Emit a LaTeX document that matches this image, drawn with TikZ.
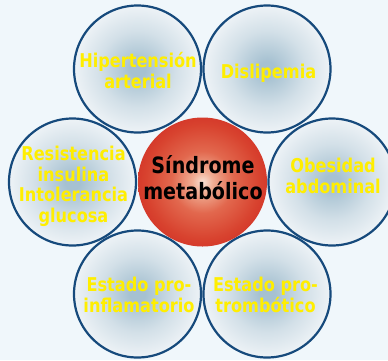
\documentclass[tikz,border=0pt]{standalone}
\usepackage{fontspec}
\newfontfamily\labfont[FakeStretch=0.85]{DejaVu Sans}
\definecolor{bg}{HTML}{F0F7FB}
\definecolor{rim}{HTML}{164A7C}
\definecolor{bubin}{HTML}{A6C1D1}
\definecolor{bubmid}{HTML}{D3E0E8}
\definecolor{bubout}{HTML}{F8FAFC}
\definecolor{txtyellow}{HTML}{FFEE00}
\definecolor{rc0}{HTML}{F9E2D5}
\definecolor{rc1}{HTML}{F0AE94}
\definecolor{rc2}{HTML}{E2684E}
\definecolor{rc3}{HTML}{D8432F}
\definecolor{rc4}{HTML}{D02C24}
\definecolor{rc5}{HTML}{C62020}
\pgfdeclareradialshading{bubble}{\pgfpoint{0bp}{0bp}}{color(0bp)=(bubin); color(3bp)=(bubin); color(15bp)=(bubmid); color(29bp)=(bubout); color(50bp)=(bubout)}
\pgfdeclareradialshading{redball}{\pgfpoint{0bp}{0bp}}{color(0bp)=(rc0); color(4bp)=(rc1); color(12bp)=(rc2); color(22bp)=(rc3); color(30bp)=(rc4); color(35bp)=(rc5); color(50bp)=(rc5)}
\tikzset{
  bub/.style={circle, draw=rim, line width=2.2pt, minimum size=127pt, inner sep=0pt, shading=bubble},
  core/.style={circle, minimum size=129pt, inner sep=0pt, shading=redball},
  ylab/.style={text=txtyellow, align=center, inner sep=0pt, font=\labfont\bfseries\fontsize{19}{20.5}\selectfont},
  clab/.style={text=black, align=center, inner sep=0pt, font=\labfont\bfseries\fontsize{22.5}{26}\selectfont},
}
\begin{document}
\begin{tikzpicture}[x=1pt,y=-1pt]
\fill[bg] (0,0) rectangle (388,360);
\useasboundingbox (0,0) rectangle (388,360);
\node[bub] (tl) at (137.5,69) {};
\node[bub] (tr) at (267,69) {};
\node[bub] (l) at (72.5,182) {};
\node[bub] (r) at (332,182) {};
\node[bub] (bl) at (137.5,294) {};
\node[bub] (br) at (267,294) {};
\node[core] (c) at (202.5,182) {};
\node[ylab] (ttl) at (138,70.75) {Hipertensión\\arterial};
\node[ylab] (ttr) at (268.5,73) {Dislipemia};
\node[ylab] (tl2) at (73.5,186.5) {Resistencia\\insulina\\Intolerancia\\glucosa};
\node[ylab] (tr2) at (333,175.7) {Obesidad\\abdominal};
\node[ylab] (tbl) at (139,294.7) {Estado pro-\\inflamatorio};
\node[ylab] (tbr) at (265.5,294.7) {Estado pro-\\trombótico};
\node[clab] (tc) at (203,177.2) {Síndrome\\metabólico};
\end{tikzpicture}
\end{document}
